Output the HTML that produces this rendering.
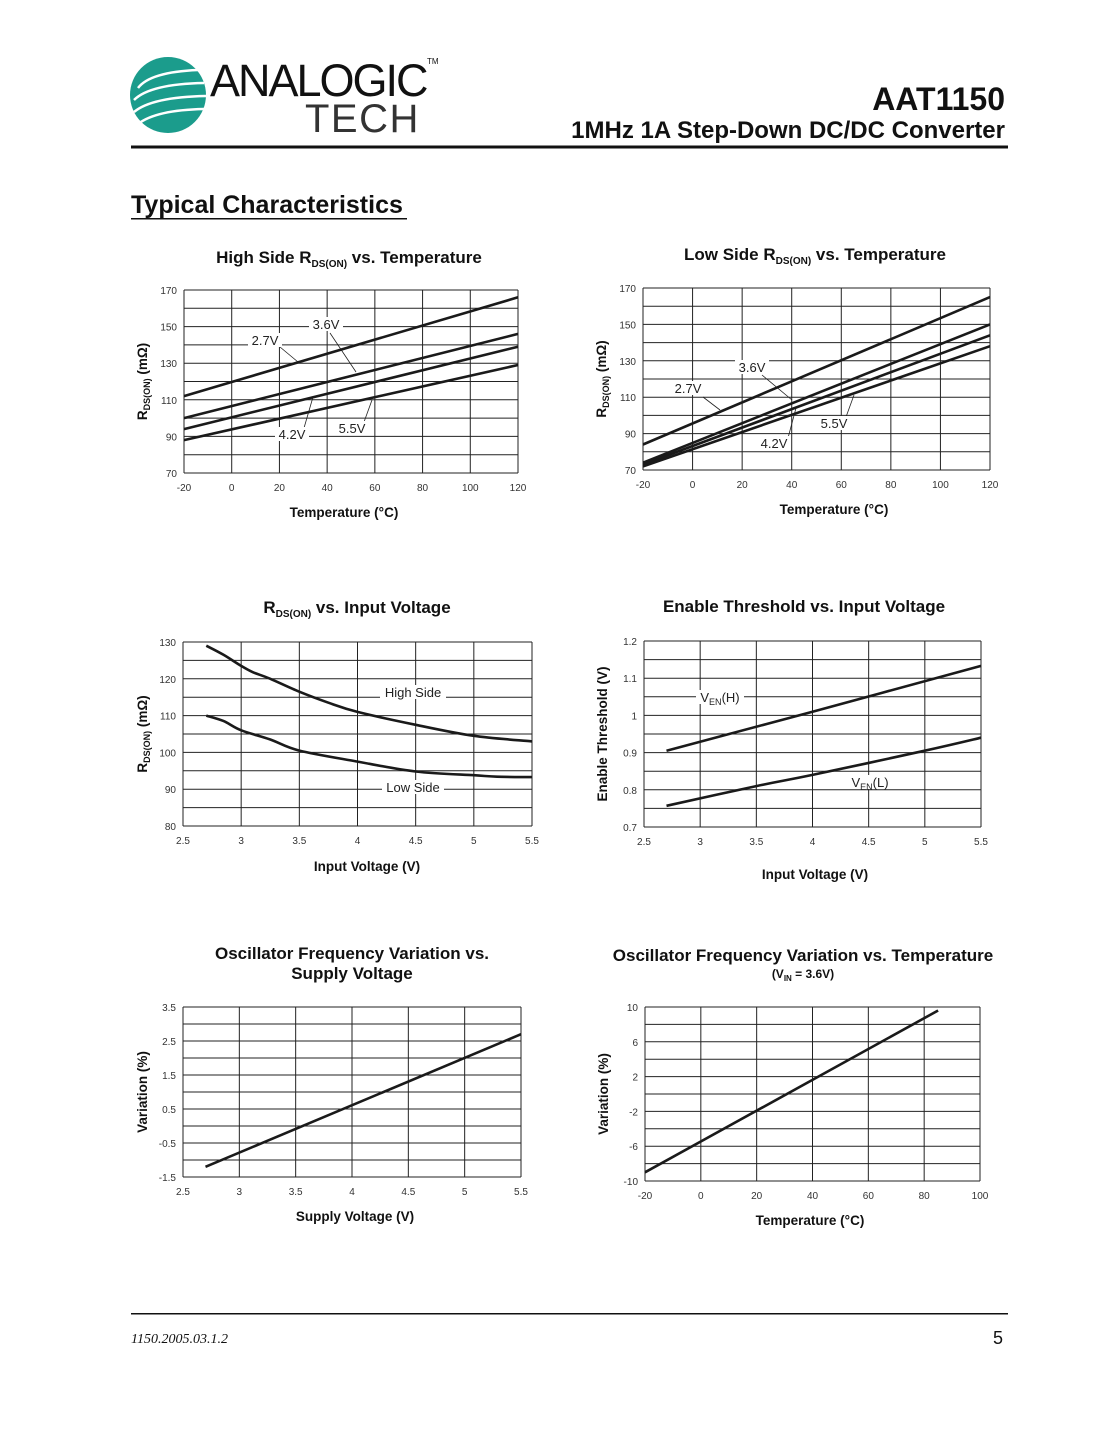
<!DOCTYPE html>
<html><head><meta charset="utf-8"><style>
html,body{margin:0;padding:0;background:#fff}
svg{display:block;font-family:"Liberation Sans",Arial,sans-serif}
</style></head><body>
<svg id="page" width="1105" height="1430" viewBox="0 0 1105 1430" xmlns="http://www.w3.org/2000/svg">
<g>
<circle cx="168" cy="95" r="38" fill="#1b9c8c"/>
<path d="M138 88 Q150 72 198 70 M134 100 Q150 84 204 83 M134 112 Q152 97 206 96 M138 124 Q156 110 204 109" stroke="#fff" stroke-width="2.5" fill="none"/>
<text x="210" y="96" font-size="45" letter-spacing="-2" fill="#111">ANALOGIC</text>
<text x="427" y="64" font-size="8" fill="#111">TM</text>
<text x="305" y="132" font-size="40" fill="#333" letter-spacing="1.5">TECH</text>
</g>
<text x="1005" y="110" font-size="32" font-weight="bold" text-anchor="end" fill="#111">AAT1150</text>
<text x="1005" y="138" font-size="24" font-weight="bold" text-anchor="end" fill="#111">1MHz 1A Step-Down DC/DC Converter</text>
<rect x="131" y="145.5" width="877" height="3" fill="#111"/>
<text x="131" y="213" font-size="25" font-weight="bold" fill="#111">Typical Characteristics</text>
<rect x="131" y="218" width="276" height="1.5" fill="#111"/>
<rect x="131" y="1313" width="877" height="1.5" fill="#111"/>
<text x="131" y="1343" font-size="14" font-style="italic" font-family="Liberation Serif,serif" fill="#111">1150.2005.03.1.2</text>
<text x="1003" y="1344" font-size="18" text-anchor="end" fill="#111">5</text>
<g id="charts"></g>
</svg>
<script>
// Chart 1: High side Rds vs temperature
const c1X = [-20, 120];
const c1_27 = [112, 166];
const c1_36 = [100, 146];
const c1_42 = [94, 139];
const c1_55 = [88, 129];
// Chart 2: Low side
const c2X = [-20, 120];
const c2_27 = [84, 165];
const c2_36 = [74, 150];
const c2_42 = [73, 144];
const c2_55 = [72, 138];
// Chart 3: Rds vs Vin
const c3HX = [2.7, 2.85, 3.0, 3.1, 3.25, 3.5, 3.75, 4.0, 4.5, 5.0, 5.5];
const c3High = [129, 126.5, 123.5, 121.8, 120, 116.5, 113.5, 111, 107.5, 104.5, 103];
const c3LX = [2.7, 2.85, 3.0, 3.25, 3.5, 4.0, 4.5, 5.0, 5.2, 5.5];
const c3Low = [110, 108.5, 106, 103.5, 100.5, 97.5, 94.8, 93.8, 93.4, 93.3];
// Chart 4: Enable threshold
const c4X = [2.7, 4.0, 5.5];
const c4H = [0.905, 1.01, 1.133];
const c4LX = [2.7, 3.5, 4.0, 5.0, 5.5];
const c4L = [0.757, 0.81, 0.84, 0.905, 0.94];
// Chart 5: Osc freq vs supply
const c5X = [2.7, 5.5];
const c5V = [-1.2, 2.7];
// Chart 6: Osc freq vs temperature
const c6X = [-20, 85];
const c6V = [-9, 9.6];
const tempTicks = ['-20','0','20','40','60','80','100','120'];
const vinTicks = ['2.5','3','3.5','4','4.5','5','5.5'];

const NS = 'http://www.w3.org/2000/svg';
const root = document.getElementById('charts');
function mk(tag, attrs, parent, txt){const e=document.createElementNS(NS,tag);for(const k in attrs)e.setAttribute(k,attrs[k]);if(txt!==undefined)e.textContent=txt;(parent||root).appendChild(e);return e;}

function smoothPath(pts){
  if(pts.length<3) return pts.map((p,i)=>(i?'L':'M')+p[0].toFixed(1)+' '+p[1].toFixed(1)).join(' ');
  let d='M'+pts[0][0].toFixed(1)+' '+pts[0][1].toFixed(1);
  for(let i=0;i<pts.length-1;i++){
    const p0=pts[Math.max(0,i-1)],p1=pts[i],p2=pts[i+1],p3=pts[Math.min(pts.length-1,i+2)];
    const c1x=p1[0]+(p2[0]-p0[0])/6,c1y=p1[1]+(p2[1]-p0[1])/6;
    const c2x=p2[0]-(p3[0]-p1[0])/6,c2y=p2[1]-(p3[1]-p1[1])/6;
    d+=` C${c1x.toFixed(1)} ${c1y.toFixed(1)} ${c2x.toFixed(1)} ${c2y.toFixed(1)} ${p2[0].toFixed(1)} ${p2[1].toFixed(1)}`;
  }
  return d;
}

function chart(o){
  const g = mk('g',{});
  
  
  const sx=v=>o.x0+(v-o.xmin)/(o.xmax-o.xmin)*(o.x1-o.x0);
  const sy=v=>o.y1-(v-o.ymin)/(o.ymax-o.ymin)*(o.y1-o.y0);
  for(let i=0;i<=o.ny;i++){const y=o.y0+i*(o.y1-o.y0)/o.ny;const l=mk('line',{x1:o.x0,x2:o.x1,y1:y,y2:y,stroke:'#222','stroke-width':1},g);}
  for(let i=0;i<=o.nx;i++){const x=o.x0+i*(o.x1-o.x0)/o.nx;const l=mk('line',{x1:x,x2:x,y1:o.y0,y2:o.y1,stroke:'#222','stroke-width':1},g);}
  o.yt.forEach((t,i)=>{const y=o.y1-i*(o.y1-o.y0)/(o.yt.length-1);const e=mk('text',{x:o.x0-7,y:y+4,'font-size':10,'text-anchor':'end',fill:'#333'},g,t);});
  o.xt.forEach((t,i)=>{const x=o.x0+i*(o.x1-o.x0)/(o.xt.length-1);const e=mk('text',{x:x,y:o.y1+18,'font-size':10,'text-anchor':'middle',fill:'#333'},g,t);});
  o.labels.forEach(L=>{
    if(L.lx1) mk('line',{x1:L.lx1,y1:L.ly1,x2:L.lx2,y2:L.ly2,stroke:'#222','stroke-width':0.8},g);
    mk('rect',{x:L.x-L.w/2,y:L.y-9,width:L.w,height:14,fill:'#fff'},g);
    const e=mk('text',{x:L.x,y:L.y+3,'font-size':13,'text-anchor':'middle',fill:'#222'},g);
    
    e.innerHTML=L.t;
  });
  o.series.forEach(s=>{
    const pts=s.x.map((v,i)=>[sx(v),sy(s.y[i])]);
    const p=mk('path',{d:smoothPath(pts),stroke:'#1a1a1a','stroke-width':2.6,fill:'none','stroke-linejoin':'round'},g);
    
  });
  const t=mk('text',{x:o.tx,y:o.ty,'font-size':17,'font-weight':'bold','text-anchor':'middle',fill:'#111'},g);
  t.innerHTML=o.title;
  if(o.title2){const t2=mk('text',{x:o.tx,y:o.ty+20,'font-size':17,'font-weight':'bold','text-anchor':'middle',fill:'#111'},g,o.title2);}
  if(o.sub){const t3=mk('text',{x:o.tx,y:o.ty+17,'font-size':12,'font-weight':'bold','text-anchor':'middle',fill:'#111'},g);t3.innerHTML=o.sub;}
  const xt=mk('text',{x:o.xtx,y:o.xty,'font-size':13.5,'font-weight':'bold','text-anchor':'middle',fill:'#111'},g,o.xtitle);
  
  const yt=mk('text',{x:0,y:0,'font-size':13.5,'font-weight':'bold','text-anchor':'middle',fill:'#111',transform:`translate(${o.ytx},${(o.y0+o.y1)/2}) rotate(-90)`},g);
  yt.innerHTML=o.ytitle;
}
const rds='R<tspan font-size="9" dy="3">DS(ON)</tspan><tspan dy="-3"> (mΩ)</tspan>';
chart({name:'high-side-rds-chart',x0:184,x1:518,y0:290,y1:473,xmin:-20,xmax:120,ymin:70,ymax:170,nx:7,ny:10,
 yt:['70','90','110','130','150','170'],xt:tempTicks,
 series:[{name:'line-2-7v',x:c1X,y:c1_27},{name:'line-3-6v',x:c1X,y:c1_36},{name:'line-4-2v',x:c1X,y:c1_42},{name:'line-5-5v',x:c1X,y:c1_55}],
 labels:[{t:'3.6V',x:326,y:326,w:34,lx1:330,ly1:333,lx2:356,ly2:372},{t:'2.7V',x:265,y:342,w:34,lx1:280,ly1:347,lx2:298,ly2:362},{t:'4.2V',x:292,y:436,w:34,lx1:304,ly1:428,lx2:313,ly2:397},{t:'5.5V',x:352,y:430,w:34,lx1:364,ly1:422,lx2:372,ly2:400}],
 title:'High Side R<tspan font-size="10" dy="4">DS(ON)</tspan><tspan dy="-4"> vs. Temperature</tspan>',tx:349,ty:263,
 xtitle:'Temperature (°C)',xtx:344,xty:517,ytitle:rds,ytx:147});
chart({name:'low-side-rds-chart',x0:643,x1:990,y0:288,y1:470,xmin:-20,xmax:120,ymin:70,ymax:170,nx:7,ny:10,
 yt:['70','90','110','130','150','170'],xt:tempTicks,
 series:[{name:'line-2-7v',x:c2X,y:c2_27},{name:'line-3-6v',x:c2X,y:c2_36},{name:'line-4-2v',x:c2X,y:c2_42},{name:'line-5-5v',x:c2X,y:c2_55}],
 labels:[{t:'3.6V',x:752,y:369,w:34,lx1:762,ly1:375,lx2:792,ly2:400},{t:'2.7V',x:688,y:390,w:34,lx1:703,ly1:397,lx2:720,ly2:410},{t:'4.2V',x:774,y:445,w:34,lx1:788,ly1:438,lx2:796,ly2:408},{t:'5.5V',x:834,y:425,w:34,lx1:846,ly1:417,lx2:854,ly2:395}],
 title:'Low Side R<tspan font-size="10" dy="4">DS(ON)</tspan><tspan dy="-4"> vs. Temperature</tspan>',tx:815,ty:260,
 xtitle:'Temperature (°C)',xtx:834,xty:514,ytitle:rds,ytx:606});
chart({name:'rds-vs-input-voltage-chart',x0:183,x1:532,y0:642,y1:826,xmin:2.5,xmax:5.5,ymin:80,ymax:130,nx:6,ny:10,
 yt:['80','90','100','110','120','130'],xt:vinTicks,
 series:[{name:'high-side-curve',x:c3HX,y:c3High},{name:'low-side-curve',x:c3LX,y:c3Low}],
 labels:[{t:'High Side',x:413,y:694,w:66},{t:'Low Side',x:413,y:789,w:62}],
 title:'R<tspan font-size="10" dy="4">DS(ON)</tspan><tspan dy="-4"> vs. Input Voltage</tspan>',tx:357,ty:613,
 xtitle:'Input Voltage (V)',xtx:367,xty:871,ytitle:rds,ytx:147});
chart({name:'enable-threshold-chart',x0:644,x1:981,y0:641,y1:827,xmin:2.5,xmax:5.5,ymin:0.7,ymax:1.2,nx:6,ny:10,
 yt:['0.7','0.8','0.9','1','1.1','1.2'],xt:vinTicks,
 series:[{name:'ven-high-line',x:c4X,y:c4H},{name:'ven-low-line',x:c4LX,y:c4L}],
 labels:[{t:'V<tspan font-size="9" dy="3">EN</tspan><tspan dy="-3">(H)</tspan>',x:720,y:699,w:48},{t:'V<tspan font-size="9" dy="3">EN</tspan><tspan dy="-3">(L)</tspan>',x:870,y:784,w:46}],
 title:'Enable Threshold vs. Input Voltage',tx:804,ty:612,
 xtitle:'Input Voltage (V)',xtx:815,xty:879,ytitle:'Enable Threshold (V)',ytx:607});
chart({name:'osc-vs-supply-chart',x0:183,x1:521,y0:1007,y1:1177,xmin:2.5,xmax:5.5,ymin:-1.5,ymax:3.5,nx:6,ny:10,
 yt:['-1.5','-0.5','0.5','1.5','2.5','3.5'],xt:vinTicks,
 series:[{name:'variation-line',x:c5X,y:c5V}],labels:[],
 title:'Oscillator Frequency Variation vs.',title2:'Supply Voltage',tx:352,ty:959,
 xtitle:'Supply Voltage (V)',xtx:355,xty:1221,ytitle:'Variation (%)',ytx:147});
chart({name:'osc-vs-temperature-chart',x0:645,x1:980,y0:1007,y1:1181,xmin:-20,xmax:100,ymin:-10,ymax:10,nx:6,ny:10,
 yt:['-10','-6','-2','2','6','10'],xt:['-20','0','20','40','60','80','100'],
 series:[{name:'variation-line',x:c6X,y:c6V}],labels:[],
 title:'Oscillator Frequency Variation vs. Temperature',sub:'(V<tspan font-size="8" dy="3">IN</tspan><tspan dy="-3"> = 3.6V)</tspan>',tx:803,ty:961,
 xtitle:'Temperature (°C)',xtx:810,xty:1225,ytitle:'Variation (%)',ytx:608});
</script>
</body></html>
